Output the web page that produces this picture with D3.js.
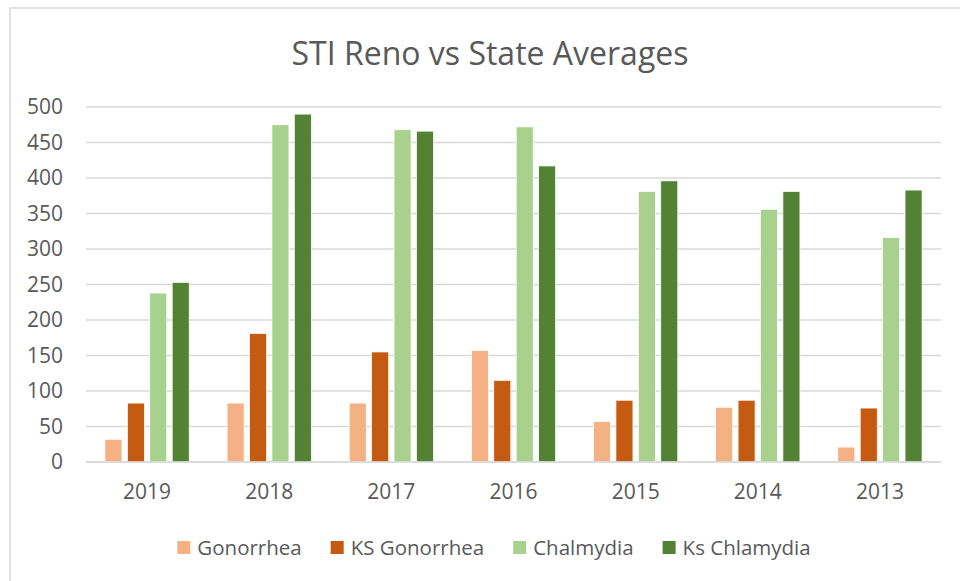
<!DOCTYPE html>
<html>
<head>
<meta charset="utf-8">
<script src="https://cdn.jsdelivr.net/npm/d3@7"></script>
<style>
  body { margin: 0; background: #fff; }
  svg { display: block; }
  text { font-family: "Open Sans", sans-serif; fill: #595959; }
</style>
</head>
<body>
<svg width="960" height="581"></svg>
<script>
// chart values
const years = ["2019", "2018", "2017", "2016", "2015", "2014", "2013"];
const seriesNames = ["Gonorrhea", "KS Gonorrhea", "Chalmydia", "Ks Chlamydia"];
const gonorrhea = [32, 83, 83, 157, 57, 77, 21];
const ksGonorrhea = [83, 181, 155, 115, 87, 87, 76];
const chalmydia = [238, 475, 468, 472, 381, 356, 316];
const ksChlamydia = [253, 490, 466, 417, 396, 381, 383];
const yTicks = [0, 50, 100, 150, 200, 250, 300, 350, 400, 450, 500];
const title = "STI Reno vs State Averages";

const colors = ["#F4B183", "#C55A11", "#A9D18E", "#548235"];
const seriesValues = [gonorrhea, ksGonorrhea, chalmydia, ksChlamydia];

const layout = {
  left: 86, right: 941, top: 107, bottom: 462,
  titleY: 65, centerX: 490,
  legendY: 541, legendCenter: 494
};

const svg = d3.select("svg");

// outer chart border (right/bottom run off the picture)
svg.append("rect")
  .attr("x", 10).attr("y", 8)
  .attr("width", 980).attr("height", 600)
  .attr("fill", "none")
  .attr("stroke", "#d9d9d9")
  .attr("stroke-width", 1.5);

svg.append("text")
  .attr("x", layout.centerX)
  .attr("y", layout.titleY)
  .attr("text-anchor", "middle")
  .attr("font-size", "32px")
  .text(title);

const x0 = d3.scaleBand()
  .domain(years)
  .range([layout.left, layout.right])
  .paddingInner(0.31)
  .paddingOuter(0.155);

const x1 = d3.scaleBand()
  .domain(seriesNames)
  .range([0, x0.bandwidth()])
  .paddingInner(0.24);

const y = d3.scaleLinear()
  .domain([0, 500])
  .range([layout.bottom, layout.top]);

// gridlines
svg.append("g")
  .selectAll("line")
  .data(yTicks)
  .join("line")
  .attr("x1", layout.left)
  .attr("x2", layout.right)
  .attr("y1", d => y(d))
  .attr("y2", d => y(d))
  .attr("stroke", "#d9d9d9")
  .attr("stroke-width", 1.5);

// y labels
const yAxis = svg.append("g")
  .attr("transform", `translate(${layout.left}, 0)`)
  .call(d3.axisLeft(y).tickValues(yTicks).tickSize(0).tickPadding(23));
yAxis.select(".domain").remove();
yAxis.selectAll("text")
  .attr("font-size", "21px")
  .attr("font-family", "Open Sans, sans-serif")
  .attr("fill", "#595959");

// bars
const groups = svg.append("g")
  .selectAll("g")
  .data(years)
  .join("g")
  .attr("transform", d => `translate(${x0(d)}, 0)`);

groups.selectAll("rect")
  .data((yr, i) => seriesNames.map((name, s) => ({ name, s, value: seriesValues[s][i] })))
  .join("rect")
  .attr("x", d => x1(d.name))
  .attr("width", x1.bandwidth())
  .attr("y", d => y(d.value))
  .attr("height", d => y(0) - y(d.value))
  .attr("fill", d => colors[d.s])
  .attr("stroke", "#fff")
  .attr("stroke-width", 0.75);

// baseline
svg.append("line")
  .attr("x1", layout.left).attr("x2", layout.right)
  .attr("y1", y(0)).attr("y2", y(0))
  .attr("stroke", "#d9d9d9")
  .attr("stroke-width", 1.5);

// x labels
const xAxis = svg.append("g")
  .attr("transform", `translate(0, ${layout.bottom})`)
  .call(d3.axisBottom(x0).tickSize(0).tickPadding(22));
xAxis.select(".domain").remove();
xAxis.selectAll("text")
  .attr("font-size", "21px")
  .attr("font-family", "Open Sans, sans-serif")
  .attr("fill", "#595959");

// legend
const legend = svg.append("g");
const items = legend.selectAll("g")
  .data(seriesNames)
  .join("g");
items.append("rect")
  .attr("width", 13).attr("height", 13)
  .attr("y", layout.legendY)
  .attr("fill", (d, i) => colors[i]);
const labels = items.append("text")
  .attr("x", 20)
  .attr("y", layout.legendY + 14)
  .attr("font-size", "20.5px")
  .text(d => d);

const widths = labels.nodes().map(n => n.getComputedTextLength());
const gap = 29;
const total = d3.sum(widths, w => w + 20) + gap * (widths.length - 1);
let cx = layout.legendCenter - total / 2;
items.attr("transform", (d, i) => {
  const t = `translate(${cx}, 0)`;
  cx += widths[i] + 20 + gap;
  return t;
});
</script>
</body>
</html>
